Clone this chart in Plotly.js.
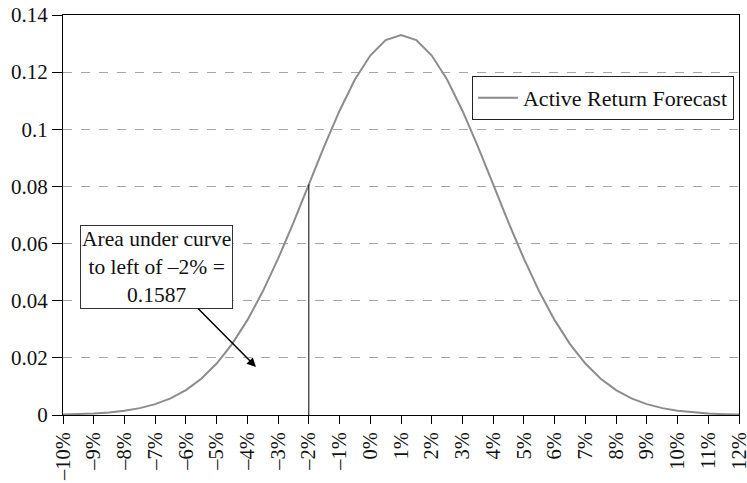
<!DOCTYPE html>
<html>
<head>
<meta charset="utf-8">
<script src="https://cdn.plot.ly/plotly-3.0.1.min.js"></script>
<style>html,body{margin:0;padding:0;background:#fff;}#chart{width:747px;height:483px;}</style>
</head>
<body>
<div id="chart"></div>
<script>
// Active return (%) grid
var returns = [-10,-9.5,-9,-8.5,-8,-7.5,-7,-6.5,-6,-5.5,-5,-4.5,-4,-3.5,-3,-2.5,-2,-1.5,-1,-0.5,0,0.5,1,1.5,2,2.5,3,3.5,4,4.5,5,5.5,6,6.5,7,7.5,8,8.5,9,9.5,10,10.5,11,11.5,12];
// Forecast density
var forecast = [0.0002,0.0003,0.0005,0.0009,0.0015,0.0024,0.0038,0.0058,0.0087,0.0127,0.0180,0.0248,0.0332,0.0432,0.0547,0.0673,0.0807,0.0940,0.1065,0.1174,0.1258,0.1312,0.1330,0.1312,0.1258,0.1174,0.1065,0.0940,0.0807,0.0673,0.0547,0.0432,0.0332,0.0248,0.0180,0.0127,0.0087,0.0058,0.0038,0.0024,0.0015,0.0009,0.0005,0.0003,0.0002];
var seriesName = "Active Return Forecast";
var tickValues = [-10,-9,-8,-7,-6,-5,-4,-3,-2,-1,0,1,2,3,4,5,6,7,8,9,10,11,12];
var tickLabels = ["–10%","–9%","–8%","–7%","–6%","–5%","–4%","–3%","–2%","–1%","0%","1%","2%","3%","4%","5%","6%","7%","8%","9%","10%","11%","12%"];
var cutoff = -2;
var areaText = "Area under curve<br>to left of –2% =<br>0.1587";
var arrowPoint = {x: -3.72, y: 0.0168};

var cutIdx = returns.indexOf(cutoff);
var font = "'Liberation Serif', 'DejaVu Serif', serif";

var traces = [
  {x: returns, y: forecast, type: "scatter", mode: "lines", name: seriesName,
   line: {color: "#8c8c8c", width: 2}},
  {x: [cutoff, cutoff], y: [0, forecast[cutIdx]], type: "scatter", mode: "lines",
   showlegend: false, hoverinfo: "skip", line: {color: "#000", width: 1}}
];

var layout = {
  width: 747, height: 483,
  margin: {l: 63, r: 8, t: 15, b: 68},
  paper_bgcolor: "#fff", plot_bgcolor: "#fff",
  font: {family: font, size: 21, color: "#111"},
  showlegend: true,
  legend: {x: 0.605, y: 0.8475, xanchor: "left", yanchor: "top",
           bordercolor: "#222", borderwidth: 1, bgcolor: "#fff",
           itemwidth: 40, tracegroupgap: 0,
           font: {family: font, size: 22, color: "#111"}},
  xaxis: {range: [-10, 12], tickmode: "array", tickvals: tickValues, ticktext: tickLabels,
          tickangle: -90, ticks: "outside", ticklen: 8, tickcolor: "#000",
          ticklabeloverflow: "allow", tickfont: {family: font, size: 20.5, color: "#111"},
          showline: true, linecolor: "#000", linewidth: 1, mirror: true,
          showgrid: false, zeroline: false, fixedrange: true},
  yaxis: {range: [0, 0.14], dtick: 0.02, tick0: 0, ticks: "outside", ticklen: 10, tickcolor: "#000",
          tickfont: {family: font, size: 21, color: "#111"},
          showline: true, linecolor: "#000", linewidth: 1, mirror: true,
          showgrid: true, gridcolor: "#a6a6a6", griddash: "dash", gridwidth: 1,
          zeroline: false, fixedrange: true},
  annotations: [{
    x: arrowPoint.x, y: arrowPoint.y, xref: "x", yref: "y",
    text: areaText, showarrow: true, arrowhead: 2, arrowsize: 1.2, arrowwidth: 1.5,
    arrowcolor: "#000", ax: -99, ay: -100,
    bordercolor: "#333", borderwidth: 1, borderpad: 1, bgcolor: "#fff",
    font: {family: font, size: 21.5, color: "#111"}, align: "center"
  }]
};

Plotly.newPlot("chart", traces, layout, {displayModeBar: false, staticPlot: true});
</script>
</body>
</html>
